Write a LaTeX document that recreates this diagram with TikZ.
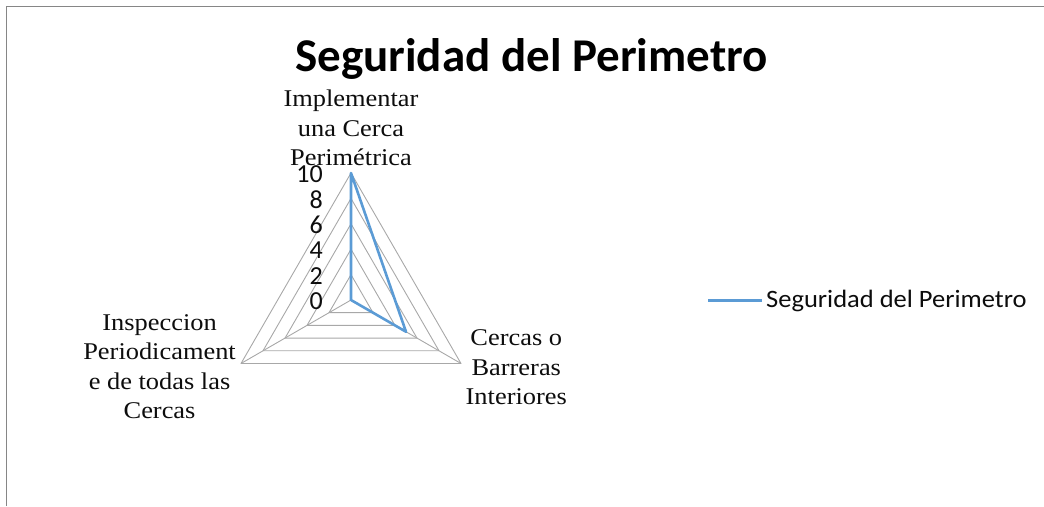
\documentclass[tikz,border=0pt]{standalone}
\usepackage{fontspec}
\usepackage{tikz}
\usetikzlibrary{positioning}
\setmainfont{Liberation Serif}
\newfontfamily\axisfont[FakeStretch=1.1]{Liberation Serif}
\newfontfamily\chartfont{Carlito}
\newfontfamily\legendfont[FakeStretch=1.06]{Carlito}
\definecolor{SeriesBlue}{RGB}{91, 155, 213}
\definecolor{GridGray}{RGB}{168, 168, 168}
\definecolor{FrameGray}{RGB}{134, 134, 134}
\definecolor{TextBlack}{RGB}{13, 13, 13}
\tikzset{%
  chart_title/.style={%
    font={\chartfont\bfseries\fontsize{47}{56}\selectfont},%
    color=black,%
    inner sep=0,%
  },
  axis_label/.style={%
    font={\axisfont\fontsize{24}{29.5}\selectfont},%
    color=TextBlack,%
    align=center,%
    inner sep=0,%
  },
  scale_label/.style={%
    font={\chartfont\fontsize{26}{26}\selectfont},%
    color=TextBlack,%
    anchor=east,%
    inner sep=0,%
  },
  legend_label/.style={%
    font={\legendfont\fontsize{25}{25}\selectfont},%
    color=TextBlack,%
    anchor=west,%
    inner sep=0,%
  },
  grid_line/.style={%
    draw=GridGray,%
    line width=0.9pt,%
    line join=round,%
  },
  series_line/.style={%
    draw=SeriesBlue,%
    line width=2.6pt,%
    line join=round,%
  },
  frame_line/.style={%
    draw=FrameGray,%
    line width=1pt,%
  },
}
\begin{document}
\begin{tikzpicture}[x=1pt, y=1pt]
  \useasboundingbox (0,0) rectangle (1044,506);
  \draw [frame_line] (6,0) -- (6,499) -- (1044,499);

  \node [chart_title, anchor=base] (Title) at (531.5,434.3)
    {Seguridad del Perimetro};

  \coordinate (Center) at (351,206);
  \coordinate (AxisTop) at (351,333);
  \coordinate (AxisRight) at (461,142.5);
  \coordinate (AxisLeft) at (241,142.5);

  \begin{scope}[shift={(Center)}]
    \foreach \r in {2,4,...,10}
      \draw [grid_line]
        (90:{\r*12.7}) -- (210:{\r*12.7}) -- (330:{\r*12.7}) -- cycle;
    \coordinate (PointRight) at (330:63.5);
  \end{scope}
  \draw [grid_line] (Center) -- (AxisTop);
  \draw [grid_line] (Center) -- (AxisRight);
  \draw [grid_line] (Center) -- (AxisLeft);

  \draw [series_line]
    (AxisTop)
    --
    (Center)
    --
    (PointRight)
    --
    cycle;

  \foreach \v in {0,2,...,10}
    \node [scale_label] (Scale\v) at (323,{205+12.7*\v}) {\v};

  \node [axis_label, above = 7 of AxisTop] (LabelTop)
    {Implementar\\una Cerca\\Perimétrica};
  \node [axis_label, right = 4.5 of AxisRight, yshift=-4] (LabelRight)
    {Cercas o\\Barreras\\Interiores};
  \node [axis_label, left = 5 of AxisLeft, yshift=-3] (LabelLeft)
    {Inspeccion\\Periodicament\\e de todas las\\Cercas};

  \coordinate (LegendStart) at (708,205.3);
  \node [legend_label] (LegendText) at (766,205.3) {Seguridad del Perimetro};
  \draw [series_line] (LegendStart) -- ([xshift=-4]LegendText.west);
\end{tikzpicture}
\end{document}
